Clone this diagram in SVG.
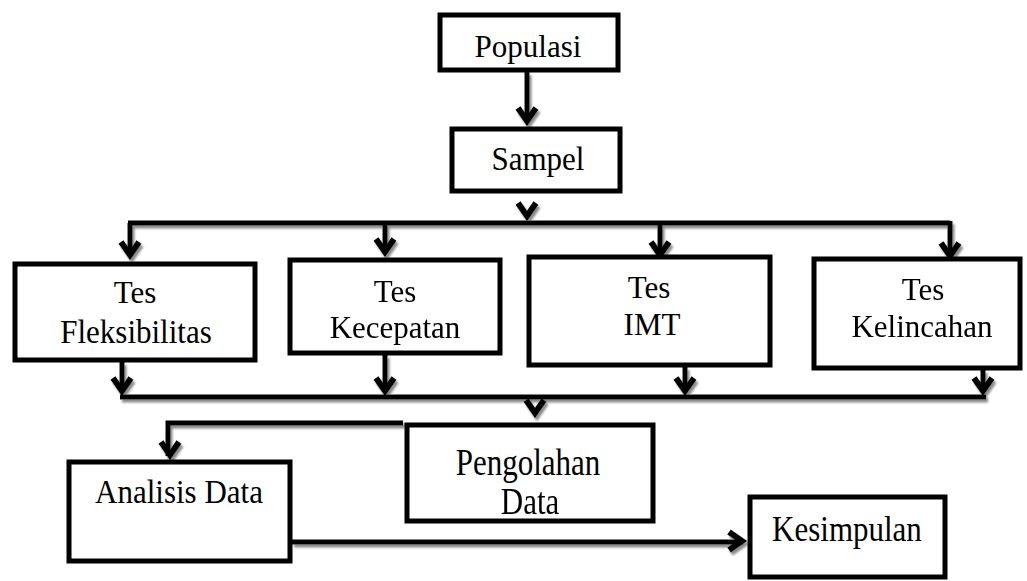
<svg xmlns="http://www.w3.org/2000/svg" width="1027" height="581" viewBox="0 0 1027 581">
<style>
.box{fill:#fff;stroke:#000;stroke-width:5}
.t{font-family:"Liberation Serif","Times New Roman",serif;font-size:31px;fill:#000;text-anchor:middle}
.ln{fill:none;stroke:#000;stroke-width:5}
.ah{fill:none;stroke:#000;stroke-width:6;stroke-linejoin:miter;stroke-miterlimit:10}
</style>
<defs>
<filter id="sh" x="-5%" y="-5%" width="110%" height="120%">
<feDropShadow dx="2" dy="3" stdDeviation="0.8" flood-color="#8a8a8a" flood-opacity="1"/>
</filter>
<path id="chev" d="M-9,-19 L0,-6 L9,-19"/>
</defs>
<rect width="1027" height="581" fill="#fff"/>
<g id="connectors" filter="url(#sh)">
<path class="ln" d="M527,72 V122"/>
<use href="#chev" class="ah" transform="translate(527,127)"/>
<use href="#chev" class="ah" transform="translate(527,222)"/>
<path class="ln" d="M128,223 H950"/>
<path class="ln" d="M130,223 V255"/>
<use href="#chev" class="ah" transform="translate(130,261)"/>
<path class="ln" d="M385,223 V252"/>
<use href="#chev" class="ah" transform="translate(385,258)"/>
<path class="ln" d="M660,223 V255"/>
<use href="#chev" class="ah" transform="translate(660,261)"/>
<path class="ln" d="M950,221 V256"/>
<use href="#chev" class="ah" transform="translate(950,262)"/>
<path class="ln" d="M120,397 H986"/>
<path class="ln" d="M122,362 V392"/>
<use href="#chev" class="ah" transform="translate(122,397)"/>
<path class="ln" d="M385,355 V392"/>
<use href="#chev" class="ah" transform="translate(385,397)"/>
<path class="ln" d="M685,367 V392"/>
<use href="#chev" class="ah" transform="translate(685,397)"/>
<path class="ln" d="M983,370 V392"/>
<use href="#chev" class="ah" transform="translate(983,397)"/>
<use href="#chev" class="ah" transform="translate(535,419)"/>
<path class="ln" d="M403,423 H168 V456"/>
<use href="#chev" class="ah" transform="translate(170,461)"/>
<path class="ln" d="M292,542 H743"/>
<use href="#chev" class="ah" transform="translate(748,541) rotate(-90)"/>
</g>
<g id="populasi"><rect class="box" x="440" y="15" width="178" height="55"/><text class="t" transform="translate(528,57)">Populasi</text></g>
<g id="sampel"><rect class="box" x="452" y="129" width="168" height="62"/><text class="t" transform="translate(538,170) scale(1,1.06)">Sampel</text></g>
<g id="tes-fleksibilitas"><rect class="box" x="15" y="264" width="240" height="96"/><text class="t" transform="translate(135,303) scale(1,1.02)">Tes</text><text class="t" transform="translate(136,343) scale(1,1.1)">Fleksibilitas</text></g>
<g id="tes-kecepatan"><rect class="box" x="290" y="260" width="210" height="93"/><text class="t" transform="translate(395,302) scale(1,1.05)">Tes</text><text class="t" transform="translate(395,338) scale(1,1.05)">Kecepatan</text></g>
<g id="tes-imt"><rect class="box" x="529" y="257" width="241" height="108"/><text class="t" transform="translate(649,298)">Tes</text><text class="t" transform="translate(652,335)">IMT</text></g>
<g id="tes-kelincahan"><rect class="box" x="814" y="259" width="206" height="109"/><text class="t" transform="translate(923,300)">Tes</text><text class="t" transform="translate(922,337)">Kelincahan</text></g>
<g id="pengolahan-data"><rect class="box" x="407" y="425" width="246" height="96"/><text class="t" transform="translate(528,475) scale(1,1.25)">Pengolahan</text><text class="t" transform="translate(530,514) scale(1,1.25)">Data</text></g>
<g id="analisis-data"><rect class="box" x="69" y="462" width="221" height="99"/><text class="t" transform="translate(179,503) scale(1,1.1)">Analisis Data</text></g>
<g id="kesimpulan"><rect class="box" x="750" y="497" width="195" height="80"/><text class="t" transform="translate(847,541) scale(1,1.15)">Kesimpulan</text></g>
</svg>
